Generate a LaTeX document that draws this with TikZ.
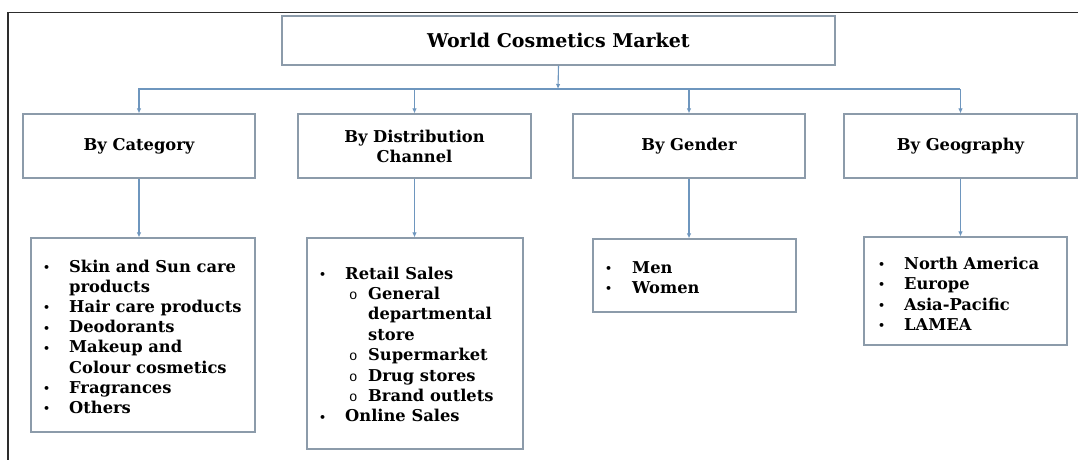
\documentclass[tikz,border=0pt]{standalone}
\usepackage{fontspec}
\setmainfont{DejaVu Serif}
\newfontfamily\monofnt{Liberation Mono}
\usetikzlibrary{arrows.meta}
\definecolor{boxline}{RGB}{140,155,170}
\definecolor{connline}{RGB}{110,150,190}
\definecolor{frameline}{RGB}{45,45,45}
\newcommand\dotmark{{\fontsize{11}{11}\selectfont\raisebox{0.6pt}{•}}}
\newcommand\bul{\makebox[26pt][l]{\dotmark}}
\newcommand\bulg{\makebox[27pt][l]{\dotmark}}
\newcommand\ind{\hspace*{26pt}}
\newcommand\subo{\hspace*{30pt}\makebox[19pt][l]{{\monofnt\mdseries\fontsize{14}{14}\selectfont o}}}
\newcommand\subind{\hspace*{49pt}}
\begin{document}
\begin{tikzpicture}[x=1pt,y=-1pt,
  box/.style={draw=boxline,line width=1.2pt,fill=white,inner sep=0pt},
  conn/.style={draw=connline,line width=1.1pt,-{Latex[length=5pt,width=4.5pt]}},
  plainconn/.style={draw=connline,line width=1.1pt},
  lvl/.style={font=\bfseries\fontsize{16.3}{20}\selectfont,align=center},
  lst/.style={anchor=base west,inner sep=0pt,font=\bfseries}]
\useasboundingbox (0,0) rectangle (1078,460);
\fill[white] (0,0) rectangle (1078,460);
\draw[frameline,line width=1.3pt] (8,460) -- (8,12.5) -- (1078,12.5);

% title
\node[box,minimum width=553pt,minimum height=49pt,font=\bfseries\fontsize{19}{22}\selectfont] (title) at (558.5,40.5) {World Cosmetics Market};

% level 2
\node[box,lvl,minimum width=232pt,minimum height=64pt] (cat) at (139,146) {By Category};
\node[box,lvl,minimum width=233pt,minimum height=64pt] (dist) at (414.5,146) {By Distribution\\Channel};
\node[box,lvl,minimum width=232pt,minimum height=64pt] (gen) at (689,146) {By Gender};
\node[box,lvl,minimum width=233pt,minimum height=64pt] (geo) at (960.5,146) {By Geography};

% connectors top
\coordinate (j) at (558,89);
\coordinate (hl) at (138,89);
\coordinate (hr) at (960,89);
\draw[conn] (title.south) -- (j);
\draw[plainconn] (hl) -- (hr);
\draw[conn] (cat.north |- j) -- (cat.north);
\draw[conn] (dist.north |- j) -- (dist.north);
\draw[conn] (gen.north |- j) -- (gen.north);
\draw[conn] (geo.north |- j) -- (geo.north);

% list boxes
\node[box,minimum width=224pt,minimum height=194pt] (catl) at (143,335) {};
\node[box,minimum width=216pt,minimum height=211pt] (distl) at (415,343.5) {};
\node[box,minimum width=203pt,minimum height=73pt] (genl) at (694.5,275.5) {};
\node[box,minimum width=203pt,minimum height=108pt] (geol) at (965.5,291) {};

\draw[conn] (cat.south) -- (cat.south |- catl.north);
\draw[conn] (dist.south) -- (dist.south |- distl.north);
\draw[conn] (gen.south) -- (gen.south |- genl.north);
\draw[conn] (geo.south) -- (geo.south |- geol.north);

% list texts
\node[lst] (catt) at (43,272) {\parbox[t]{215pt}{\fontsize{16.3}{20.2}\selectfont
\bul Skin and Sun care\\
\ind products\\
\bul Hair care products\\
\bul Deodorants\\
\bul Makeup and\\
\ind Colour cosmetics\\
\bul Fragrances\\
\bul Others}};

\node[lst] (distt) at (319,279) {\parbox[t]{205pt}{\fontsize{16.3}{20.4}\selectfont
\bul Retail Sales\\
\subo General\\
\subind departmental\\
\subind store\\
\subo Supermarket\\
\subo Drug stores\\
\subo Brand outlets\\
\bul Online Sales}};

\node[lst] (gent) at (605,273) {\parbox[t]{185pt}{\fontsize{16.3}{20.2}\selectfont
\bulg Men\\
\bulg Women}};

\node[lst] (geot) at (878,269) {\parbox[t]{185pt}{\fontsize{16.3}{20.5}\selectfont
\bul North America\\
\bul Europe\\
\bul Asia-Pacific\\
\bul LAMEA}};
\end{tikzpicture}
\end{document}
